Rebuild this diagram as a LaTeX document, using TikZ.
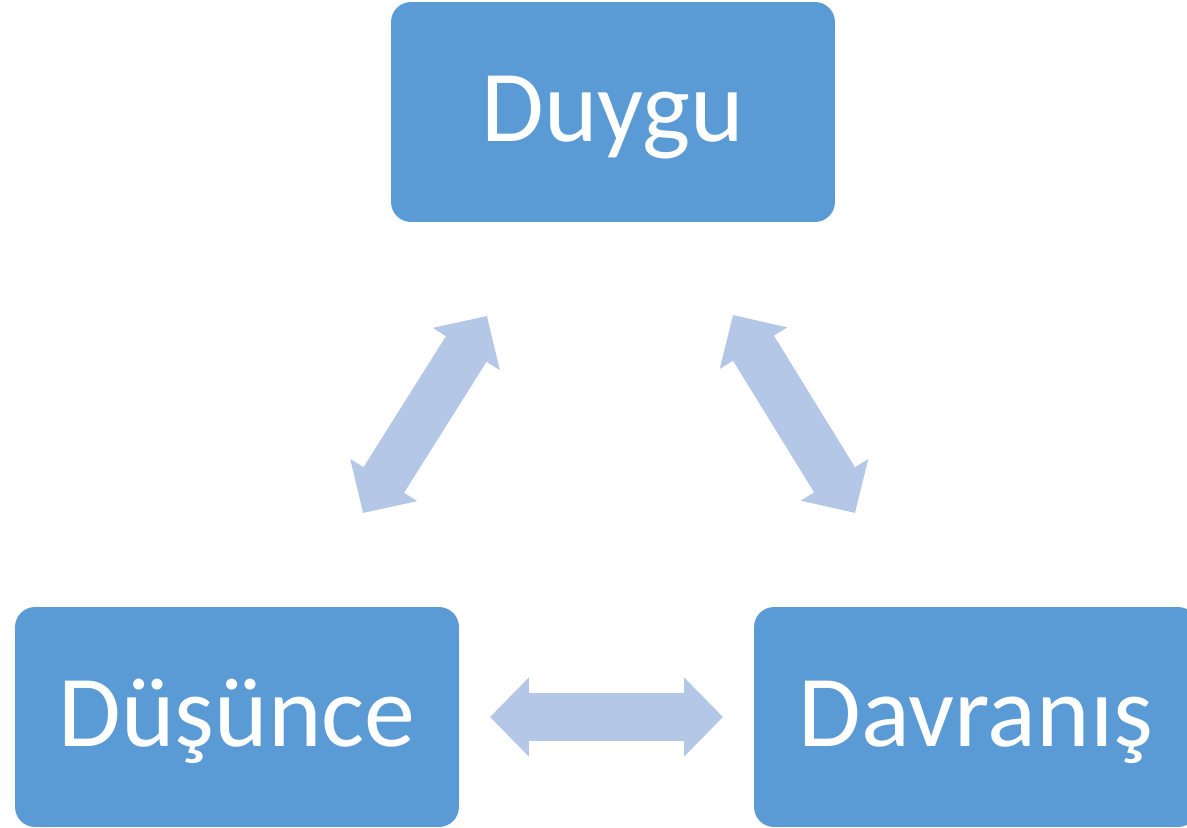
\documentclass[tikz,border=0pt]{standalone}
\usepackage{fontspec}
\setmainfont{Carlito}
\usetikzlibrary{arrows.meta, positioning, calc}

\definecolor{boxblue}{HTML}{5B9BD5}
\definecolor{arrowblue}{HTML}{B4C7E7}

\begin{document}
\begin{tikzpicture}[
    x=0.02cm, y=-0.02cm,
    box/.style={rectangle, rounded corners=0.4cm, fill=boxblue, text=white, minimum width=8.88cm, minimum height=4.4cm, inner sep=0pt, text height=1.31cm, text depth=0.12cm, font=\fontsize{58}{64}\selectfont},
    link/.style={draw=arrowblue, line width=0.96cm, {Triangle[length=0.78cm, width=1.54cm]}-{Triangle[length=0.78cm, width=1.54cm]}}
]
\useasboundingbox (0,0) rectangle (1187,828);

% --- Boxes ---
\node[box] (duygu) at (613,112) {Duygu};
\node[box] (dusunce) at (237,717) {Düşünce};
\node[box] (davranis) at (976,717) {Davranış};

% --- Arrow ends ---
\coordinate (l_bot) at (363,513);
\coordinate (l_top) at (487,316);
\coordinate (r_top) at (733,315);
\coordinate (r_bot) at (855,513);
\coordinate (h_left) at (490,717);
\coordinate (h_right) at (723,717);

% --- Arrows ---
\draw[link] (l_bot) -- (l_top);
\draw[link] (r_top) -- (r_bot);
\draw[link] (h_left) -- (h_right);

\end{tikzpicture}
\end{document}
